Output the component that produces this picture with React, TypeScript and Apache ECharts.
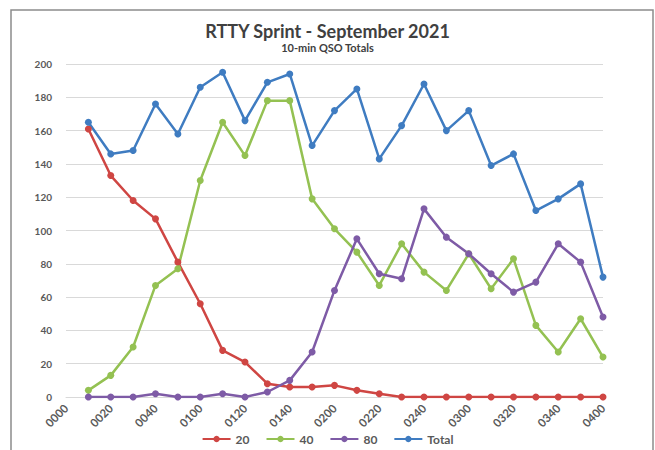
import React, { useEffect, useRef } from "react";
import * as echarts from "echarts";

const categories = [
  "0000", "0010", "0020", "0030", "0040", "0050", "0100", "0110", "0120", "0130",
  "0140", "0150", "0200", "0210", "0220", "0230", "0240", "0250", "0300", "0310",
  "0320", "0330", "0340", "0350", "0400",
];
const band20 = [null, 161, 133, 118, 107, 81, 56, 28, 21, 8, 6, 6, 7, 4, 2, 0, 0, 0, 0, 0, 0, 0, 0, 0, 0];
const band40 = [null, 4, 13, 30, 67, 77, 130, 165, 145, 178, 178, 119, 101, 87, 67, 92, 75, 64, 86, 65, 83, 43, 27, 47, 24];
const band80 = [null, 0, 0, 0, 2, 0, 0, 2, 0, 3, 10, 27, 64, 95, 74, 71, 113, 96, 86, 74, 63, 69, 92, 81, 48];
const total = [null, 165, 146, 148, 176, 158, 186, 195, 166, 189, 194, 151, 172, 185, 143, 163, 188, 160, 172, 139, 146, 112, 119, 128, 72];

const FONT = "Lato, 'Open Sans', sans-serif";

export default function App() {
  const ref = useRef<HTMLDivElement>(null);
  useEffect(() => {
    document.body.style.margin = "0";
    const chart = echarts.init(ref.current!, null, { renderer: "svg" });
    const mk = (name: string, data: (number | null)[], color: string) => ({
      name,
      type: "line",
      data,
      symbol: "circle",
      symbolSize: 7,
      lineStyle: { width: 2.5, color },
      itemStyle: { color },
      connectNulls: false,
    });
    chart.setOption({
      animation: false,
      backgroundColor: "#ffffff",
      textStyle: { fontFamily: FONT },
      title: {
        text: "RTTY Sprint - September 2021",
        subtext: "10-min QSO Totals",
        left: "center",
        top: 17,
        itemGap: 2,
        textStyle: { fontFamily: FONT, fontSize: 18, fontWeight: "bold", color: "#404040" },
        subtextStyle: { fontFamily: FONT, fontSize: 11, fontWeight: "bold", color: "#404040" },
      },
      graphic: [
        {
          type: "rect",
          shape: { x: 11, y: 10, width: 642, height: 460 },
          style: { fill: "none", stroke: "#8c8c8c", lineWidth: 1.5 },
          silent: true,
        },
      ],
      legend: {
        bottom: 0,
        left: "center",
        itemWidth: 28,
        itemHeight: 8,
        itemGap: 16,
        textStyle: { fontFamily: FONT, fontSize: 12, fontWeight: "bold", color: "#595959" },
        data: ["20", "40", "80", "Total"],
      },
      grid: { left: 66, right: 52, top: 64, bottom: 53, containLabel: false },
      xAxis: {
        type: "category",
        data: categories,
        boundaryGap: false,
        axisLine: { lineStyle: { color: "#d9d9d9" } },
        axisTick: { show: false },
        axisLabel: {
          interval: 1,
          rotate: 45,
          fontSize: 11.5,
          fontWeight: "bold",
          color: "#595959",
          fontFamily: FONT,
          margin: 9,
        },
      },
      yAxis: {
        type: "value",
        min: 0,
        max: 200,
        interval: 20,
        axisLine: { show: false },
        axisTick: { show: false },
        axisLabel: { fontSize: 10, color: "#595959", fontFamily: FONT, margin: 14, fontWeight: "bold" },
        splitLine: { lineStyle: { color: "#d9d9d9", width: 1 } },
      },
      series: [
        mk("20", band20, "#cf4643"),
        mk("40", band40, "#94c152"),
        mk("80", band80, "#7e5ba6"),
        mk("Total", total, "#3f7cc1"),
      ],
    });
    return () => chart.dispose();
  }, []);
  return <div ref={ref} style={{ width: 655, height: 450, position: "absolute", left: 0, top: 0 }} />;
}
